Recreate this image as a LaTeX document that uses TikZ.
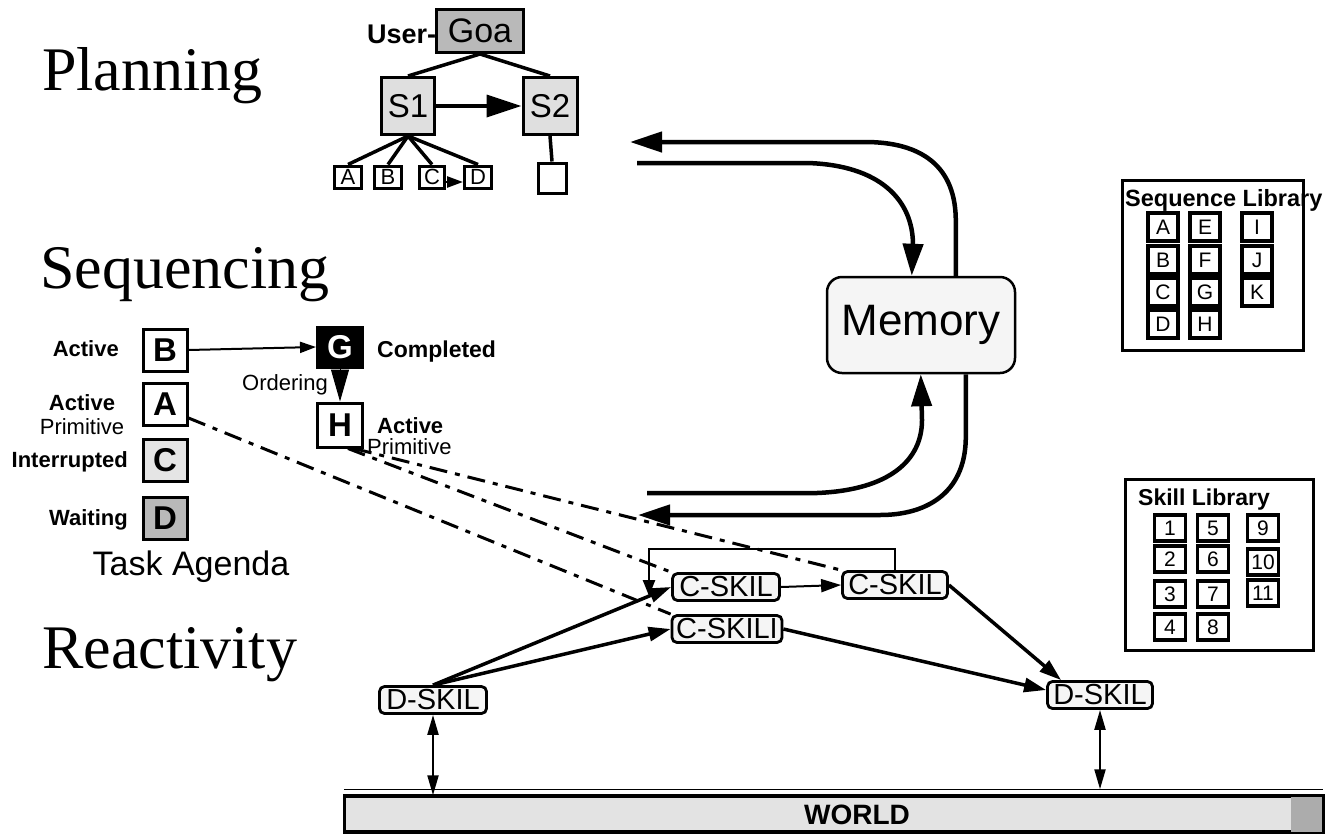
\documentclass[tikz,border=0pt]{standalone}
\usepackage{fontspec}
\setmainfont{Liberation Sans}
\newfontfamily\headfont{Liberation Serif}
\usetikzlibrary{arrows.meta,calc}
\newcommand\myfs[1]{\fontsize{#1}{#1}\selectfont}
\begin{document}
\begin{tikzpicture}[x=1pt,y=-1pt,
  heading/.style={font=\headfont\myfs{62}, anchor=base west, inner sep=0pt},
  pbox/.style={draw, line width=3pt, inner sep=0pt},
  pline/.style={line width=3.5pt},
  memarrow/.style={line width=4.5pt, -{Triangle[length=32pt,width=20pt]}},
  seqbox/.style={draw, line width=3pt, minimum width=44pt, minimum height=42pt, inner sep=0pt, font=\bfseries\myfs{33}},
  lbl/.style={font=\bfseries\myfs{22}, inner sep=0pt},
  lblr/.style={font=\myfs{22}, inner sep=0pt},
  libbox/.style={draw, line width=3.5pt, minimum width=30pt, minimum height=28pt, inner sep=0pt, font=\myfs{21}},
  skil/.style={draw, rounded corners=5pt, line width=2.8pt, fill=gray!8, inner sep=0pt, minimum height=27pt, font=\myfs{29}},
  rarrow/.style={line width=3.5pt, -{Triangle[length=22pt,width=14pt]}},
  dashln/.style={line width=3pt, dash pattern=on 18pt off 8pt on 5pt off 8pt},
  darrow/.style={line width=2.2pt, {Triangle[length=20pt,width=11pt]}-{Triangle[length=20pt,width=11pt]}}
]
\useasboundingbox (0,0) rectangle (1329,833);

% ---------------- headings
\node[heading] (hplan) at (42,90) {Planning};
\node[heading] (hseq) at (40,288) {Sequencing};
\node[heading] (hreact) at (42,668) {Reactivity};

% ---------------- planning tree
\node[font=\bfseries\myfs{27}, anchor=base west, inner sep=0pt] (user) at (367,43) {User-};
\node[pbox, fill=gray!55, minimum width=87pt, minimum height=43pt, font=\myfs{34}] (goal) at (480,31) {Goa};
\node[pbox, fill=gray!25, minimum width=53pt, minimum height=57pt, font=\myfs{33}] (s1) at (408,106) {\raisebox{-4pt}{S1}};
\node[pbox, fill=gray!25, minimum width=54pt, minimum height=57pt, font=\myfs{33}] (s2) at (550,106) {\raisebox{-4pt}{S2}};
\node[pbox, minimum width=27pt, minimum height=22pt, font=\myfs{22}] (pa) at (348,177) {\raisebox{-5pt}{A}};
\node[pbox, minimum width=27pt, minimum height=22pt, font=\myfs{22}] (pb) at (388,177) {\raisebox{-5pt}{B}};
\node[pbox, minimum width=25pt, minimum height=22pt, font=\myfs{22}] (pc) at (432,177) {\raisebox{-5pt}{C}};
\node[pbox, minimum width=27pt, minimum height=22pt, font=\myfs{22}] (pd) at (478,177) {\raisebox{-5pt}{D}};
\node[pbox, minimum width=28pt, minimum height=30pt] (pe) at (552,178) {};
\draw[pline] (goal.south) -- (s1.north);
\draw[pline] (goal.south) -- (s2.north);
\draw[line width=3.5pt, -{Triangle[length=35pt,width=22pt]}] (s1.east) -- (s2.west);
\foreach \t in {pa,pb,pc,pd} \draw[pline] (s1.south) -- (\t.north);
\draw[pline] (s2.south) -- (pe.north);
\draw[line width=2.5pt, -{Triangle[length=16pt,width=11pt]}] ([yshift=-5pt]pc.east) -- ([yshift=-5pt]pd.west);

% ---------------- memory
\node[draw, line width=2.5pt, rounded corners=15pt, fill=gray!8, minimum width=188pt, minimum height=96pt, font=\myfs{44}] (mem) at (921,325) {Memory};
\coordinate (planin) at (630,142);
\coordinate (planout) at (637,163);
\coordinate (seqout) at (647,493);
\coordinate (seqin) at (638,515);
\draw[memarrow] ([xshift=130pt]mem.north west) -- ++(0,-52) .. controls (957,165) and (920,142) .. (865,142) -- (planin);
\draw[memarrow] (planout) -- (807,163) .. controls (880,165) and (913,200) .. (913,245) -- ([xshift=86pt]mem.north west);
\draw[memarrow] (seqout) -- (817,493) .. controls (890,490) and (922,460) .. (922,420) -- ([xshift=95pt]mem.south west);
\draw[memarrow] ([xshift=140pt]mem.south west) -- ++(0,60) .. controls (967,490) and (930,515) .. (880,515) -- (seqin);

% ---------------- sequencing
\node[seqbox] (qb) at (165,350) {B};
\node[seqbox] (qa) at (165,404) {A};
\node[seqbox, fill=gray!20] (qc) at (165,460) {C};
\node[seqbox, fill=gray!55] (qd) at (165,518) {D};
\node[seqbox, fill=black, text=white, minimum width=45pt, minimum height=40pt] (qg) at (340,347) {G};
\node[seqbox, minimum width=45pt, minimum height=44pt] (qh) at (340,425) {H};
\draw[line width=2pt, -{Triangle[length=16pt,width=11pt]}] (qb.east) -- (qg.west);
\draw[line width=1pt, -{Triangle[length=32pt,width=18pt]}] (qg.south) -- (qh.north);

\node[lbl, anchor=east] (lb) at (119,349) {Active};
\node[lbl] (la) at (82,403) {Active};
\node[lblr] (la2) at (82,427) {Primitive};
\node[lbl, anchor=east] (lc) at (128,462) {Interrupted};
\node[lbl, anchor=east] (ld) at (128,520) {Waiting};
\node[font=\myfs{34}, inner sep=0pt] (agenda) at (191,567) {Task Agenda};
\node[lblr, anchor=east] (ord) at (328,385) {Ordering};
\node[lbl, font=\bfseries\myfs{23}, anchor=west] (lg) at (377,352) {Completed};
\node[lbl, anchor=west] (lh) at (377,426) {Active};
\node[lblr, anchor=west] (lh2) at (367,447) {Primitive};

% ---------------- libraries
\draw[line width=3pt] (1122,180) rectangle (1303,350);
\node[lbl, font=\bfseries\myfs{23.5}, anchor=west] (seqlib) at (1125,200) {Sequence Library};
\foreach \n/\x/\y in {A/1163/227, B/1163/260, C/1163/292, D/1163/324,
                      E/1205/227, F/1205/260, G/1205/292, H/1205/324,
                      I/1257/227, J/1257/260, K/1257/292}
  \node[libbox] (sl\n) at (\x,\y) {\n};

\draw[line width=3pt] (1125,479) rectangle (1313,650);
\node[lbl, font=\bfseries\myfs{23}, anchor=west] (sklib) at (1138,500) {Skill Library};
\foreach \n/\x/\y in {1/1170/528, 2/1170/559, 3/1170/594, 4/1170/627,
                      5/1213/528, 6/1213/559, 7/1213/594, 8/1213/627,
                      9/1263/528, 10/1263/562, 11/1263/593}
  \node[libbox, minimum width=31pt, minimum height=26pt] (sk\n) at (\x,\y) {\n};

% ---------------- reactivity
\node[skil, minimum width=107pt] (cska) at (726,587) {C-SKIL};
\node[skil, minimum width=105pt] (cskb) at (895,585) {C-SKIL};
\node[skil, minimum width=110pt] (cski) at (727,629) {C-SKILI};
\node[skil, minimum width=107pt] (dska) at (433,700) {D-SKIL};
\node[skil, minimum width=105pt] (dskb) at (1100,695) {D-SKIL};

\coordinate (loopend) at (649,596);
\draw[line width=2.5pt, -{Triangle[length=16pt,width=12pt]}] (cskb.north) -- ++(0,-21) -| (loopend);
\draw[line width=2pt, -{Triangle[length=20pt,width=13pt]}] (cska.east) -- (cskb.west);
\draw[rarrow] (dska.north) -- (cska.west);
\draw[rarrow] (dska.north) -- (cski.west);
\draw[rarrow] (cskb.east) -- ([xshift=15pt]dskb.north west);
\draw[rarrow] (cski.east) -- ([yshift=5pt]dskb.west);

\draw[dashln] ([yshift=-14pt]qa.east) -- (cski.north west);
\draw[dashln] ([xshift=8pt]qh.south) -- (cska.north west);
\draw[dashln] ([xshift=14pt]qh.south) -- (cskb.north west);

% ---------------- world
\node[draw, line width=2.5pt, fill=gray!22, minimum width=977pt, minimum height=35pt, inner sep=0pt] (world) at (833.5,814) {};
\fill[gray!65] ([xshift=-32pt]world.north east) rectangle (world.south east);
\draw[line width=2.5pt] (world.north west) rectangle (world.south east);
\draw[line width=1.5pt] ([yshift=6pt]world.north west) -- ([yshift=6pt]world.north east);
\node[font=\bfseries\myfs{28}, inner sep=0pt] (wtxt) at (857,815) {WORLD};
\draw[darrow] (dska.south) -- (dska.south |- world.north);
\draw[darrow] (dskb.south) -- ([yshift=6pt]dskb.south |- world.north);
\end{tikzpicture}
\end{document}
